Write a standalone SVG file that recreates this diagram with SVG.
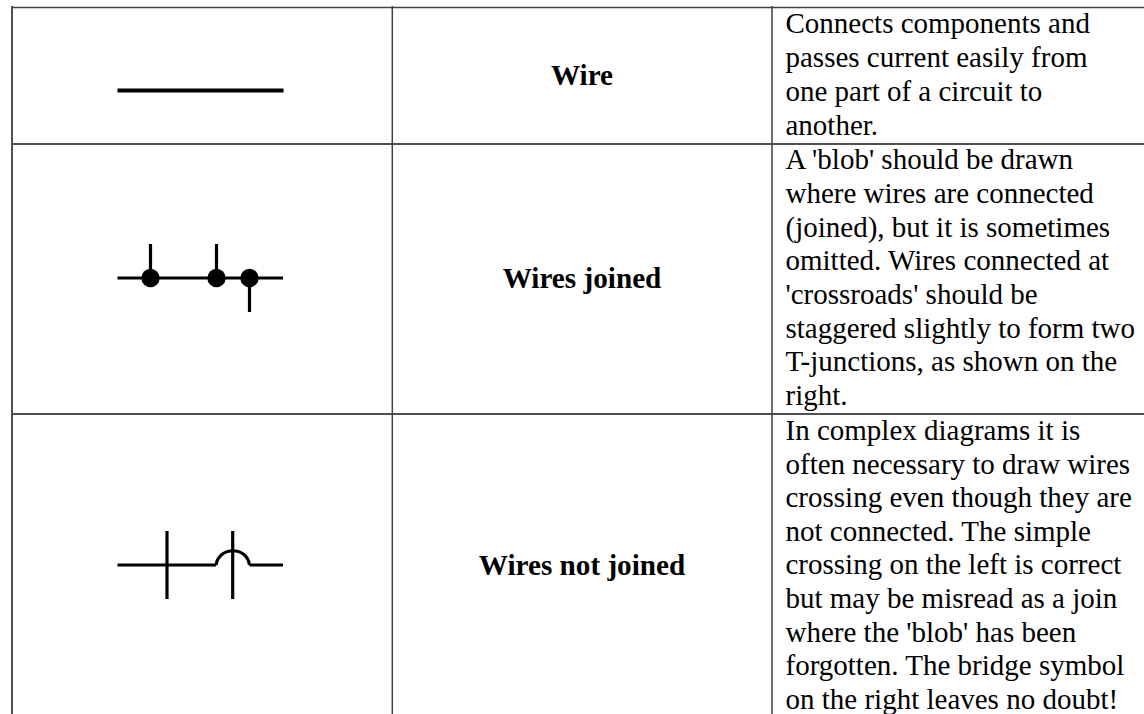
<svg xmlns="http://www.w3.org/2000/svg" width="1144" height="714" viewBox="0 0 1144 714">
<style>
.g{stroke:#404040;stroke-width:1.5;fill:none}
.h{stroke:#505050;stroke-width:2;fill:none}
.w{stroke:#000;stroke-width:3.2;fill:none}
.d{fill:#000}
text{font-family:"Liberation Serif","Times New Roman",serif;fill:#000}
.t{font-size:29px}
.b{font-size:29.200px;font-weight:bold;text-anchor:middle}
</style>
<rect width="1144" height="714" fill="#fff"/>
<g id="table">
<path class="g" d="M12 7.500H1144"/>
<path class="h" d="M12 144H1144M12 414H1144M12 6V714"/>
<path class="g" d="M392.300 6V714M772 6V714"/>
</g>
<g id="connectors">
<path class="w" d="M117.500 90.500H283.500" style="stroke-width:4.200"/>
<path class="w" d="M117.500 278H283M150.500 244V278M216.500 244V278M249.500 278V312"/>
<path class="w" d="M117.500 565H216M167 531V599M232.700 531V599M249.500 565H283M216 565C219 546 247 546 249.500 565"/>
</g>
<g id="node-wire-blobs"><circle class="d" cx="150.500" cy="278" r="9.200"/><circle class="d" cx="216.500" cy="278" r="9.200"/><circle class="d" cx="249.500" cy="278" r="9.200"/></g>
<g id="row-wire"><text class="b" x="582" y="84.500">Wire</text>
<text class="t" x="785.500" y="33">Connects components and</text><text class="t" x="785.500" y="67">passes current easily from</text><text class="t" x="785.500" y="101">one part of a circuit to</text><text class="t" x="785.500" y="135">another.</text></g>
<g id="row-joined"><text class="b" x="582" y="288">Wires joined</text>
<text class="t" x="785.500" y="169">A 'blob' should be drawn</text><text class="t" x="785.500" y="203">where wires are connected</text><text class="t" x="785.500" y="236.500">(joined), but it is sometimes</text><text class="t" x="785.500" y="270">omitted. Wires connected at</text><text class="t" x="785.500" y="304">'crossroads' should be</text><text class="t" x="785.500" y="337.500">staggered slightly to form two</text><text class="t" x="785.500" y="371">T-junctions, as shown on the</text><text class="t" x="785.500" y="405">right.</text></g>
<g id="row-not-joined"><text class="b" x="582" y="575">Wires not joined</text>
<text class="t" x="785.500" y="440">In complex diagrams it is</text><text class="t" x="785.500" y="473.500">often necessary to draw wires</text><text class="t" x="785.500" y="507">crossing even though they are</text><text class="t" x="785.500" y="540.500">not connected. The simple</text><text class="t" x="785.500" y="574">crossing on the left is correct</text><text class="t" x="785.500" y="607.500">but may be misread as a join</text><text class="t" x="785.500" y="641.500">where the 'blob' has been</text><text class="t" x="785.500" y="675">forgotten. The bridge symbol</text><text class="t" x="785.500" y="708.500">on the right leaves no doubt!</text></g>
</svg>
